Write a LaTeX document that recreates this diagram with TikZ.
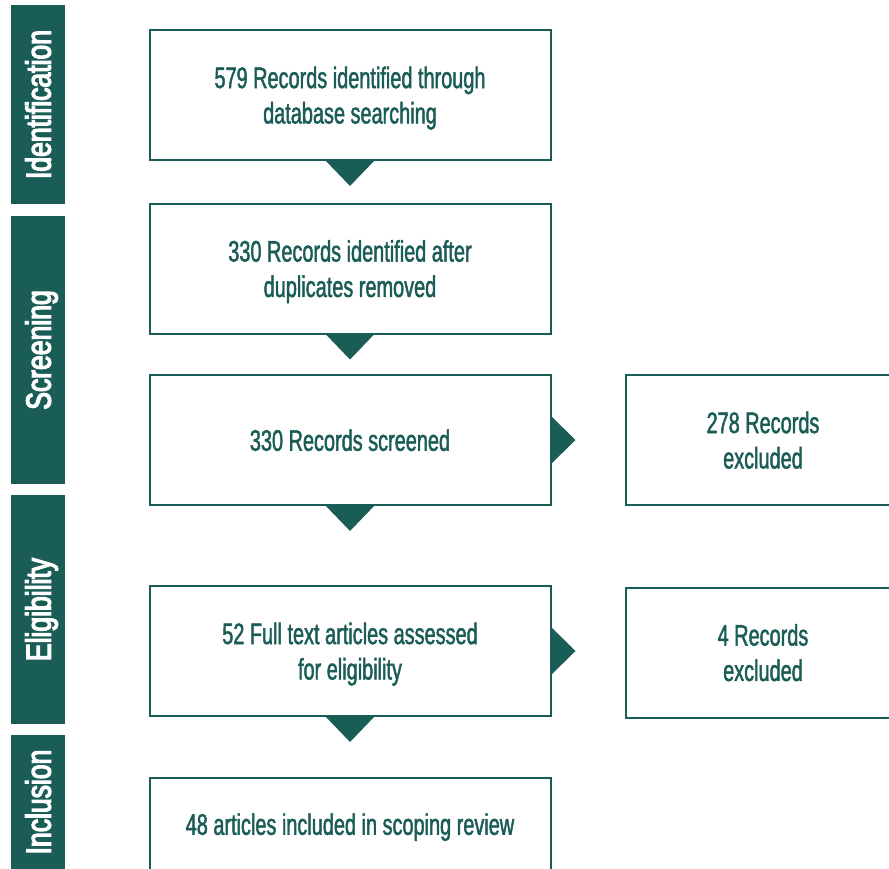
\documentclass[tikz,border=0pt]{standalone}
\usepackage{fontspec}
\setmainfont{Liberation Sans}[FakeStretch=0.67,FakeBold=1.5]
\newfontfamily\barfont{Liberation Sans}[FakeStretch=0.76,FakeBold=3.5]
\usetikzlibrary{calc}
\definecolor{tealdark}{RGB}{26,92,86}
\begin{document}
\begin{tikzpicture}[x=1pt,y=-1pt,
  box/.style={draw=tealdark, line width=2pt, minimum width=401pt, minimum height=130pt,
    inner sep=0pt, align=center, text=tealdark, text depth=0pt,
    font=\fontsize{29.7}{35.4}\selectfont},
  sidebox/.style={box, minimum width=274pt},
  bar/.style={fill=tealdark, rotate=90, minimum height=54pt, inner sep=0pt,
    text=white, text depth=0pt, font=\barfont\fontsize{34.9}{40}\selectfont},
  tri/.style={fill=tealdark}]
\useasboundingbox (0,0) rectangle (889,868);
\clip (0,0) rectangle (889,868);

% phase bars
\node[bar, minimum width=199pt] (pid) at (38,104.5) {Identification};
\node[bar, minimum width=268pt] (psc) at (38,350) {Screening};
\node[bar, minimum width=229pt] (pel) at (38,609.5) {Eligibility};
\node[bar, minimum width=134pt] (pin) at (38,802) {Inclusion};

% boxes
\node[box] (b1) at (350,95) {579 Records identified through\\database searching};
\node[box] (b2) at (350,268.5) {330 Records identified after\\duplicates removed};
\node[box] (b3) at (350,440) {330 Records screened};
\node[box] (b4) at (350,651) {52 Full text articles assessed\\for eligibility};
\node[box, minimum height=93pt] (b5) at (350,824) {48 articles included in scoping review};
\node[sidebox] (r1) at (763,440) {278 Records\\excluded};
\node[sidebox] (r2) at (763,652.5) {4 Records\\excluded};

% downward connectors
\foreach \a in {b1,b2,b3,b4}{
  \fill[tri] ($(\a.south)+(-25,-1)$) -- ($(\a.south)+(25,-1)$) -- ($(\a.south)+(0,25)$) -- cycle;
}
% sideways connectors
\fill[tri] ($(b3.east)+(-1,-24.5)$) -- ($(b3.east)+(-1,24.5)$) -- ($(b3.east)+(24,0)$) -- cycle;
\fill[tri] ($(b4.east)+(-1,-24.5)$) -- ($(b4.east)+(-1,24.5)$) -- ($(b4.east)+(24,0)$) -- cycle;
\end{tikzpicture}
\end{document}
